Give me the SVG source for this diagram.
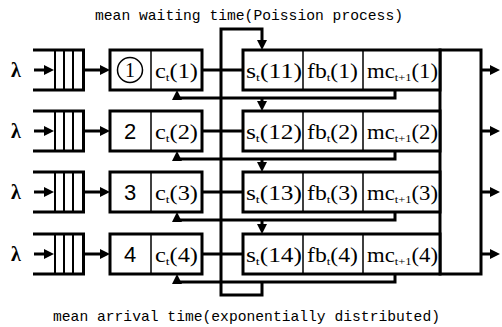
<svg xmlns="http://www.w3.org/2000/svg" width="502" height="327" viewBox="0 0 502 327">
  <style>
    .bg { fill: #fff; }
    .box { fill: #fff; stroke: #000; stroke-width: 3; }
    .div { stroke: #000; stroke-width: 1.5; fill: none; }
    .ln { stroke: #000; stroke-width: 3; fill: none; stroke-linejoin: miter; }
    .bar { stroke: #000; stroke-width: 2; }
    .cap { font-family: "Liberation Mono", monospace; font-size: 14.6px; fill: #000; }
    .lam { font-family: "Liberation Serif", serif; font-weight: bold; font-size: 20px; fill: #000; }
    .lbl { font-family: "Liberation Serif", serif; font-size: 20px; fill: #000; }
    .num { font-family: "Liberation Sans", sans-serif; font-size: 22px; fill: #000; }
    .sub { font-size: 11px; }
  </style>
  <defs>
    <marker id="ah" viewBox="0 0 10 10" refX="3" refY="5" markerWidth="10" markerHeight="10" markerUnits="userSpaceOnUse" orient="auto">
      <path d="M0,0 L10,5 L0,10 z" fill="#000"/>
    </marker>
  </defs>
  <rect class="bg" x="0" y="0" width="502" height="327"/>

  <text class="cap" x="95" y="20" textLength="308" lengthAdjust="spacingAndGlyphs">mean waiting time(Poission process)</text>
  <text class="cap" x="53" y="321" textLength="387" lengthAdjust="spacingAndGlyphs">mean arrival time(exponentially distributed)</text>

  <!-- queues -->
  <g id="queue1">
    <text class="lam" x="11" y="77">λ</text>
    <path class="ln" d="M33,50 H85 M33,90 H85"/>
    <path class="bar" d="M55,50 V90 M64,50 V90 M73,50 V90"/>
    <path class="ln" d="M83.5,50 V90"/>
  </g>
  <g id="queue2">
    <text class="lam" x="11" y="138">λ</text>
    <path class="ln" d="M33,111 H85 M33,151 H85"/>
    <path class="bar" d="M55,111 V151 M64,111 V151 M73,111 V151"/>
    <path class="ln" d="M83.5,111 V151"/>
  </g>
  <g id="queue3">
    <text class="lam" x="11" y="199">λ</text>
    <path class="ln" d="M33,172 H85 M33,212 H85"/>
    <path class="bar" d="M55,172 V212 M64,172 V212 M73,172 V212"/>
    <path class="ln" d="M83.5,172 V212"/>
  </g>
  <g id="queue4">
    <text class="lam" x="11" y="261">λ</text>
    <path class="ln" d="M33,234 H85 M33,274 H85"/>
    <path class="bar" d="M55,234 V274 M64,234 V274 M73,234 V274"/>
    <path class="ln" d="M83.5,234 V274"/>
  </g>

  <!-- channel boxes -->
  <g id="chan1">
    <rect class="box" x="110" y="50" width="92" height="40"/>
    <path class="div" d="M151,50 V90"/>
    <circle cx="130" cy="70" r="12.5" fill="none" stroke="#000" stroke-width="1.5"/>
    <text class="lbl" x="130" y="77" text-anchor="middle">1</text>
    <text class="lbl" x="155" y="78" textLength="43" lengthAdjust="spacingAndGlyphs">c<tspan class="sub" dy="3">t</tspan><tspan dy="-3">(1)</tspan></text>
  </g>
  <g id="chan2">
    <rect class="box" x="110" y="111" width="92" height="40"/>
    <path class="div" d="M151,111 V151"/>
    <text class="num" x="130" y="139" text-anchor="middle">2</text>
    <text class="lbl" x="155" y="139" textLength="43" lengthAdjust="spacingAndGlyphs">c<tspan class="sub" dy="3">t</tspan><tspan dy="-3">(2)</tspan></text>
  </g>
  <g id="chan3">
    <rect class="box" x="110" y="172" width="92" height="40"/>
    <path class="div" d="M151,172 V212"/>
    <text class="num" x="130" y="200" text-anchor="middle">3</text>
    <text class="lbl" x="155" y="200" textLength="43" lengthAdjust="spacingAndGlyphs">c<tspan class="sub" dy="3">t</tspan><tspan dy="-3">(3)</tspan></text>
  </g>
  <g id="chan4">
    <rect class="box" x="110" y="234" width="92" height="40"/>
    <path class="div" d="M151,234 V274"/>
    <text class="num" x="130" y="262" text-anchor="middle">4</text>
    <text class="lbl" x="155" y="262" textLength="43" lengthAdjust="spacingAndGlyphs">c<tspan class="sub" dy="3">t</tspan><tspan dy="-3">(4)</tspan></text>
  </g>

  <!-- output collector -->
  <g id="collector">
    <rect class="box" x="440" y="50" width="41" height="224"/>
  </g>

  <!-- slot rows -->
  <g id="slot1">
    <rect class="box" x="243" y="50" width="197" height="40"/>
    <path class="div" d="M303,50 V90 M363,50 V90"/>
    <text class="lbl" x="246" y="78" textLength="56" lengthAdjust="spacingAndGlyphs">s<tspan class="sub" dy="3">t</tspan><tspan dy="-3">(11)</tspan></text>
    <text class="lbl" x="307" y="78" textLength="51" lengthAdjust="spacingAndGlyphs">fb<tspan class="sub" dy="3">t</tspan><tspan dy="-3">(1)</tspan></text>
    <text class="lbl" x="367" y="78" textLength="71" lengthAdjust="spacingAndGlyphs">mc<tspan class="sub" dy="3">t+1</tspan><tspan dy="-3">(1)</tspan></text>
  </g>
  <g id="slot2">
    <rect class="box" x="243" y="111" width="197" height="40"/>
    <path class="div" d="M303,111 V151 M363,111 V151"/>
    <text class="lbl" x="246" y="139" textLength="56" lengthAdjust="spacingAndGlyphs">s<tspan class="sub" dy="3">t</tspan><tspan dy="-3">(12)</tspan></text>
    <text class="lbl" x="307" y="139" textLength="51" lengthAdjust="spacingAndGlyphs">fb<tspan class="sub" dy="3">t</tspan><tspan dy="-3">(2)</tspan></text>
    <text class="lbl" x="367" y="139" textLength="71" lengthAdjust="spacingAndGlyphs">mc<tspan class="sub" dy="3">t+1</tspan><tspan dy="-3">(2)</tspan></text>
  </g>
  <g id="slot3">
    <rect class="box" x="243" y="172" width="197" height="40"/>
    <path class="div" d="M303,172 V212 M363,172 V212"/>
    <text class="lbl" x="246" y="200" textLength="56" lengthAdjust="spacingAndGlyphs">s<tspan class="sub" dy="3">t</tspan><tspan dy="-3">(13)</tspan></text>
    <text class="lbl" x="307" y="200" textLength="51" lengthAdjust="spacingAndGlyphs">fb<tspan class="sub" dy="3">t</tspan><tspan dy="-3">(3)</tspan></text>
    <text class="lbl" x="367" y="200" textLength="71" lengthAdjust="spacingAndGlyphs">mc<tspan class="sub" dy="3">t+1</tspan><tspan dy="-3">(3)</tspan></text>
  </g>
  <g id="slot4">
    <rect class="box" x="243" y="234" width="197" height="40"/>
    <path class="div" d="M303,234 V274 M363,234 V274"/>
    <text class="lbl" x="246" y="262" textLength="56" lengthAdjust="spacingAndGlyphs">s<tspan class="sub" dy="3">t</tspan><tspan dy="-3">(14)</tspan></text>
    <text class="lbl" x="307" y="262" textLength="51" lengthAdjust="spacingAndGlyphs">fb<tspan class="sub" dy="3">t</tspan><tspan dy="-3">(4)</tspan></text>
    <text class="lbl" x="367" y="262" textLength="71" lengthAdjust="spacingAndGlyphs">mc<tspan class="sub" dy="3">t+1</tspan><tspan dy="-3">(4)</tspan></text>
  </g>

  <!-- connectors -->
  <g id="connectors" class="ln">
    <!-- arrivals into queues and queues into channels -->
    <path d="M34,70 H47" marker-end="url(#ah)"/>
    <path d="M85,70 H103" marker-end="url(#ah)"/>
    <path d="M34,131 H47" marker-end="url(#ah)"/>
    <path d="M85,131 H103" marker-end="url(#ah)"/>
    <path d="M34,192 H47" marker-end="url(#ah)"/>
    <path d="M85,192 H103" marker-end="url(#ah)"/>
    <path d="M34,254 H47" marker-end="url(#ah)"/>
    <path d="M85,254 H103" marker-end="url(#ah)"/>
    <!-- channel to slot -->
    <path d="M202,70 H243 M202,131 H243 M202,192 H243 M202,254 H243"/>
    <!-- circulating bus: last slot back to the first -->
    <path d="M262,282 V295 H221 V29 H262 V43" marker-end="url(#ah)"/>
    <!-- feedback under each slot back to its channel -->
    <path d="M395,90 V98 H177 V97" marker-end="url(#ah)"/>
    <path d="M395,151 V159 H177 V158" marker-end="url(#ah)"/>
    <path d="M395,212 V220 H177 V219" marker-end="url(#ah)"/>
    <path d="M395,274 V282 H177 V281" marker-end="url(#ah)"/>
    <!-- hand-off down to the next slot -->
    <path d="M262,98 V104" marker-end="url(#ah)"/>
    <path d="M262,159 V165" marker-end="url(#ah)"/>
    <path d="M262,220 V227" marker-end="url(#ah)"/>
    <!-- outputs -->
    <path d="M481,70 H493" marker-end="url(#ah)"/>
    <path d="M481,131 H493" marker-end="url(#ah)"/>
    <path d="M481,192 H493" marker-end="url(#ah)"/>
    <path d="M481,254 H493" marker-end="url(#ah)"/>
  </g>
</svg>
